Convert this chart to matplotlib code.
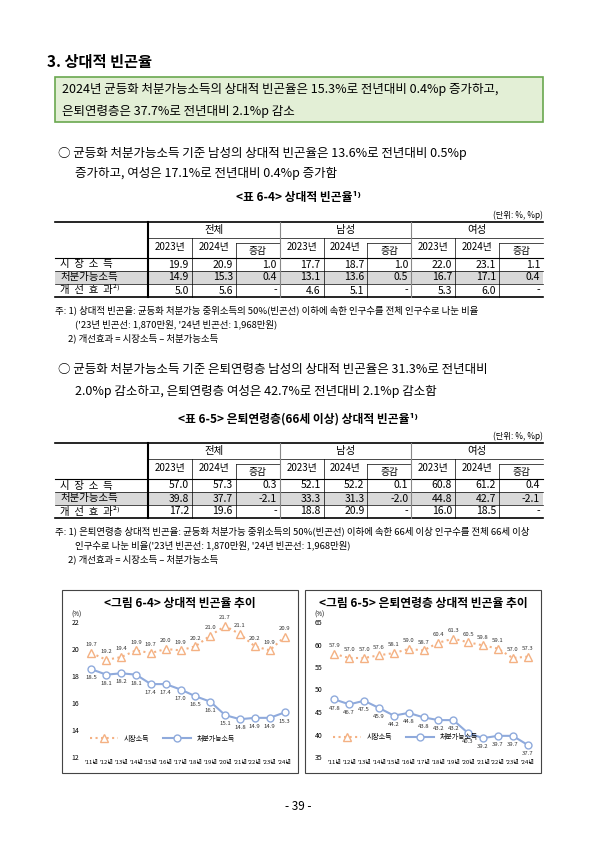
import matplotlib
matplotlib.use('Agg')
import matplotlib.pyplot as plt
from matplotlib.patches import Rectangle

plt.rcParams['font.family'] = ['Noto Sans CJK KR', 'DejaVu Sans']

W, H = 595, 842

# --- data ---
years = ["'11년", "'12년", "'13년", "'14년", "'15년", "'16년", "'17년", "'18년",
         "'19년", "'20년", "'21년", "'22년", "'23년", "'24년"]
all_market = [19.7, 19.2, 19.4, 19.9, 19.7, 20.0, 19.9, 20.2, 21.0, 21.7, 21.1, 20.2, 19.9, 20.9]
all_disp = [18.5, 18.1, 18.2, 18.1, 17.4, 17.4, 17.0, 16.5, 16.1, 15.1, 14.8, 14.9, 14.9, 15.3]
old_market = [57.9, 57.0, 57.0, 57.6, 58.1, 59.0, 58.7, 60.4, 61.3, 60.5, 59.8, 59.1, 57.0, 57.3]
old_disp = [47.8, 46.7, 47.5, 45.9, 44.2, 44.8, 43.8, 43.2, 43.2, 40.3, 39.2, 39.7, 39.7, 37.7]

row_labels = ["시  장  소  득", "처분가능소득", "개  선  효  과²⁾"]
groups = ["전체", "남성", "여성"]
sub_cols = ["2023년", "2024년", "증감"]
t64 = [["19.9", "20.9", "1.0", "17.7", "18.7", "1.0", "22.0", "23.1", "1.1"],
       ["14.9", "15.3", "0.4", "13.1", "13.6", "0.5", "16.7", "17.1", "0.4"],
       ["5.0", "5.6", "-", "4.6", "5.1", "-", "5.3", "6.0", "-"]]
t65 = [["57.0", "57.3", "0.3", "52.1", "52.2", "0.1", "60.8", "61.2", "0.4"],
       ["39.8", "37.7", "-2.1", "33.3", "31.3", "-2.0", "44.8", "42.7", "-2.1"],
       ["17.2", "19.6", "-", "18.8", "20.9", "-", "16.0", "18.5", "-"]]

fig = plt.figure(figsize=(W / 100, H / 100), dpi=100)


def T(x, y, s, **kw):
    kw.setdefault('fontsize', 8.5)
    kw.setdefault('va', 'center')
    fig.text(x / W, 1 - y / H, s, **kw)


def L(x0, y0, x1, y1, lw=0.6, color='black'):
    fig.add_artist(plt.Line2D([x0 / W, x1 / W], [1 - y0 / H, 1 - y1 / H], lw=lw, color=color))


def R(x, y, w, h, **kw):
    fig.add_artist(Rectangle((x / W, 1 - (y + h) / H), w / W, h / H, transform=fig.transFigure, **kw))


T(47, 62, "3. 상대적 빈곤율", fontsize=11, fontweight='bold')
R(55, 77, 488, 45, facecolor='#e3efd6', edgecolor='#6aa84f', lw=1.2)
T(62, 90, "2024년 균등화 처분가능소득의 상대적 빈곤율은 15.3%로 전년대비 0.4%p 증가하고,", fontsize=9)
T(62, 111, "은퇴연령층은 37.7%로 전년대비 2.1%p 감소", fontsize=9)

T(58, 153, "○ 균등화 처분가능소득 기준 남성의 상대적 빈곤율은 13.6%로 전년대비 0.5%p", fontsize=9)
T(75, 173, "증가하고, 여성은 17.1%로 전년대비 0.4%p 증가함", fontsize=9)

T(58, 370, "○ 균등화 처분가능소득 기준 은퇴연령층 남성의 상대적 빈곤율은 31.3%로 전년대비", fontsize=9)
T(75, 391, "2.0%p 감소하고, 은퇴연령층 여성은 42.7%로 전년대비 2.1%p 감소함", fontsize=9)


def table(top, title, unit, data, notes):
    T(298, top - 24, title, fontsize=8.5, ha='center', fontweight='bold')
    T(543, top - 7, unit, fontsize=6, ha='right')
    x0, xl, x1 = 55, 148, 543
    cw = (x1 - xl) / 9
    ys = [top, top + 16, top + 36, top + 49, top + 62, top + 75]
    R(x0, ys[3], x1 - x0, ys[4] - ys[3], facecolor='#d9d9d9', edgecolor='none')
    L(x0, ys[0], x1, ys[0], lw=1.2)
    L(x0, ys[2], x1, ys[2], lw=0.8)
    L(x0, ys[3], x1, ys[3], lw=0.5)
    L(x0, ys[4], x1, ys[4], lw=0.5)
    L(x0, ys[5], x1, ys[5], lw=1.2)
    L(xl, ys[0], xl, ys[5], lw=1.5)
    for g in range(3):
        gx = xl + g * 3 * cw
        T(gx + 1.5 * cw, (ys[0] + ys[1]) / 2, groups[g], fontsize=7.5, ha='center')
        L(gx, ys[1], gx + 3 * cw, ys[1], lw=0.5)
        if g > 0:
            L(gx, ys[0], gx, ys[5], lw=0.8, color='#888888')
        L(gx + 2 * cw, ys[1] + 5, gx + 3 * cw, ys[1] + 5, lw=0.5)
        for k in range(3):
            cx = gx + k * cw
            if k > 0:
                L(cx, ys[1] if k == 1 else ys[1] + 5, cx, ys[5], lw=0.5)
            yy = (ys[1] + ys[2]) / 2 + (3 if k == 2 else -1)
            T(cx + cw / 2, yy, sub_cols[k], fontsize=7, ha='center')
    for r in range(3):
        yc = (ys[2 + r] + ys[3 + r]) / 2
        T(60, yc, row_labels[r], fontsize=7.5)
        for c in range(9):
            T(xl + (c + 1) * cw - 3, yc, data[r][c], fontsize=7.5, ha='right')
    for i, n in enumerate(notes):
        T(55 if i == 0 else 75 if i == 1 else 68, ys[5] + 13 + i * 14, n, fontsize=6.8)


table(222, "<표 6-4> 상대적 빈곤율¹⁾", "(단위: %, %p)", t64,
      ["주: 1) 상대적 빈곤율: 균등화 처분가능 중위소득의 50%(빈곤선) 이하에 속한 인구수를 전체 인구수로 나눈 비율",
       "('23년 빈곤선: 1,870만원, '24년 빈곤선: 1,968만원)",
       "2) 개선효과 = 시장소득 – 처분가능소득"])
table(443, "<표 6-5> 은퇴연령층(66세 이상) 상대적 빈곤율¹⁾", "(단위: %, %p)", t65,
      ["주: 1) 은퇴연령층 상대적 빈곤율: 균등화 처분가능 중위소득의 50%(빈곤선) 이하에 속한 66세 이상 인구수를 전체 66세 이상",
       "인구수로 나눈 비율('23년 빈곤선: 1,870만원, '24년 빈곤선: 1,968만원)",
       "2) 개선효과 = 시장소득 – 처분가능소득"])


def chart(bx, title, market, disp, ylim, yticks, lab1, lab2, leg_y):
    R(bx, 590, 236, 183, facecolor='white', edgecolor='#444444', lw=0.8, zorder=-5)
    T(bx + 118, 604, title, fontsize=8.5, ha='center', fontweight='bold')
    ax = fig.add_axes([(bx + 22) / W, 1 - 757 / H, 208 / W, 135 / H])
    ax.set_zorder(5)
    ax.patch.set_alpha(0)
    x = list(range(len(years)))
    ax.plot(x, market, ls=':', color='#f4b183', lw=1.5, marker='^', ms=6,
            mfc='white', mec='#f4b183', label=lab1)
    ax.plot(x, disp, color='#8faadc', lw=1.5, marker='o', ms=5,
            mfc='white', mec='#8faadc', label=lab2)
    for i in x:
        ax.text(i, market[i] + (ylim[1] - ylim[0]) * 0.05, f"{market[i]:.1f}", fontsize=4.3,
                ha='center', color='#333333')
        ax.text(i, disp[i] - (ylim[1] - ylim[0]) * 0.075, f"{disp[i]:.1f}", fontsize=4.3,
                ha='center', color='#333333')
    ax.set_ylim(*ylim)
    ax.set_yticks(yticks)
    ax.set_xlim(-0.5, len(years) - 0.5)
    ax.set_xticks(x)
    ax.set_xticklabels(years, fontsize=4.3)
    ax.tick_params(axis='y', labelsize=5, length=0)
    ax.tick_params(axis='x', length=0, pad=2)
    for s in ax.spines.values():
        s.set_visible(False)
    ax.text(-0.06, 1.04, "(%)", transform=ax.transAxes, fontsize=4.5)
    ax.legend(loc='lower left', bbox_to_anchor=(0.0, leg_y), ncol=2, fontsize=5,
              frameon=False, handlelength=4, columnspacing=2)


chart(62, "<그림 6-4> 상대적 빈곤율 추이", all_market, all_disp, (12, 22),
      [12, 14, 16, 18, 20, 22], "시장소득", "처분가능소득", 0.06)
chart(305, "<그림 6-5> 은퇴연령층 상대적 빈곤율 추이", old_market, old_disp, (35, 65),
      [35, 40, 45, 50, 55, 60, 65], "시장소득", "처분가능소득", 0.07)

T(298, 806, "- 39 -", fontsize=8.5, ha='center')

fig.savefig("out.png", dpi=100)
